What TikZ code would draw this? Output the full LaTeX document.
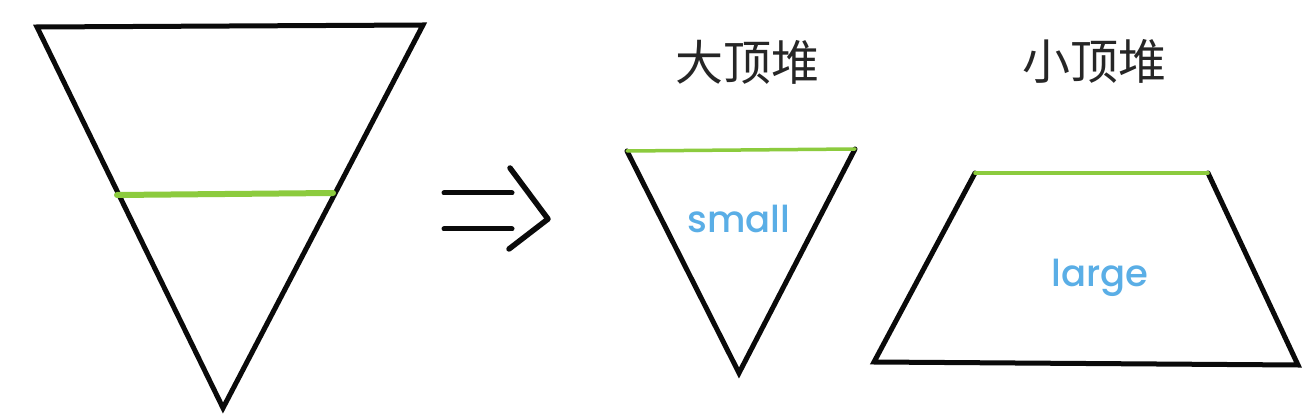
\documentclass[tikz,border=0pt]{standalone}
\usepackage{fontspec}
\newfontfamily\cjk{Noto Sans CJK SC}
\newfontfamily\labfont{Poppins}[UprightFont={* Medium}]
\definecolor{hgreen}{HTML}{8CCB3E}
\definecolor{hblue}{HTML}{5AAEE6}
\definecolor{ink}{HTML}{0A0A0A}
\begin{document}
\begin{tikzpicture}[x=1pt,y=-1pt,
  edge/.style={draw=ink,line width=5pt,line join=miter,line cap=round},
  cut/.style={draw=hgreen,line width=3.5pt,line cap=round},
  title/.style={inner sep=0pt,text=black!85,font=\cjk\fontsize{48}{52}\selectfont},
  lab/.style={inner sep=0pt,text=hblue,font=\labfont\fontsize{37}{40}\selectfont,anchor=base}]
\useasboundingbox[fill=white] (0,0) rectangle (1312,414);
% big triangle
\coordinate (A1) at (37,27);
\coordinate (A2) at (423,25);
\coordinate (A3) at (223,408);
\coordinate (G1) at (117,195);
\coordinate (G2) at (333,193);
\draw[edge] (A1) -- (A2) -- (A3) -- cycle;
\draw[cut,line width=6pt] (G1) -- (G2);
% arrow
\coordinate (L1a) at (444,193);
\coordinate (L1b) at (512,193);
\coordinate (L2a) at (444,229);
\coordinate (L2b) at (512,229);
\coordinate (C1) at (510,168);
\coordinate (C2) at (548,219);
\coordinate (C3) at (509,249);
\draw[edge] (L1a) -- (L1b);
\draw[edge] (L2a) -- (L2b);
\draw[edge,line width=5.5pt,line join=round] (C1) -- (C2) -- (C3);
% small triangle
\coordinate (S1) at (627,151);
\coordinate (S2) at (855,149);
\coordinate (S3) at (739,373);
\draw[edge] (S1) -- (S3) -- (S2);
\draw[cut] (S1) -- (S2);
\node[title] (t1) at (747,62) {大顶堆};
\node[lab] (small) at (739,233) {small};
% trapezoid
\coordinate (T1) at (975,173);
\coordinate (T2) at (1208,173);
\coordinate (T3) at (1298,365);
\coordinate (T4) at (874,362);
\draw[edge] (T1) -- (T4) -- (T3) -- (T2);
\draw[cut] (T1) -- (T2);
\node[title] (t2) at (1094,61) {小顶堆};
\node[lab] (large) at (1100,287) {large};
\end{tikzpicture}
\end{document}
